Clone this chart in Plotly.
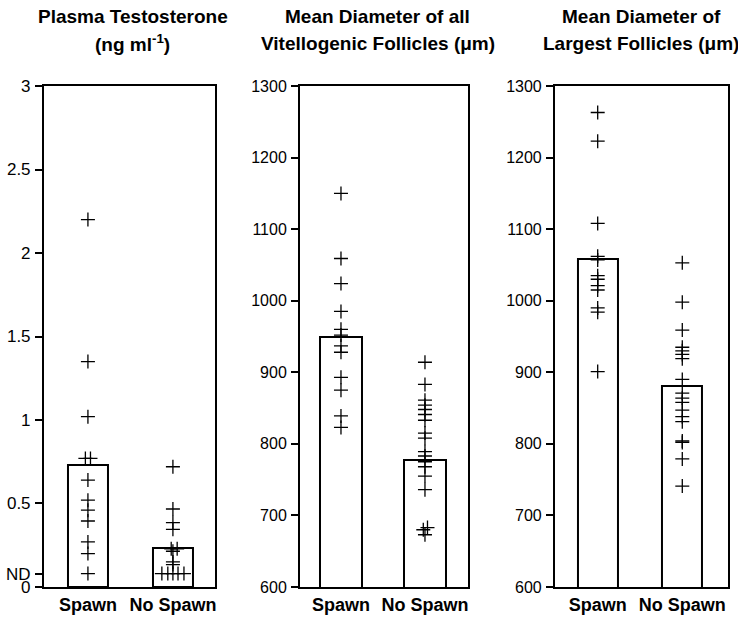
import plotly.graph_objects as go

# ---- data ----
groups = ["Spawn", "No Spawn"]

# Panel 1: plasma testosterone (ng/ml); ND plotted at 0.08
testo_spawn = [2.20, 1.35, 1.02, 0.77, 0.77, 0.64, 0.52, 0.46, 0.395, 0.27, 0.20, 0.08]
testo_nospawn = [0.72, 0.467, 0.385, 0.345, 0.229, 0.229, 0.214, 0.15, 0.134,
                 0.08, 0.08, 0.08, 0.08, 0.08]
testo_means = [0.729, 0.235]

# Panel 2: mean diameter of all vitellogenic follicles (um)
vit_spawn = [1150, 1059, 1024, 985, 960, 952, 937, 928, 893, 875, 839, 823]
vit_nospawn = [914, 883, 861, 854, 848, 841, 833, 815, 808, 789, 783, 775, 768,
               755, 736, 683, 680, 673]
vit_means = [949, 778]

# Panel 3: mean diameter of largest follicles (um)
lar_spawn = [1263, 1223, 1108, 1062, 1057, 1035, 1030, 1021, 1015, 990, 984, 901]
lar_nospawn = [1053, 998, 959, 935, 930, 925, 919, 890, 871, 864, 858, 847, 838,
               831, 804, 802, 779, 741]
lar_means = [1058, 881]

# small horizontal jitter of overlapping crosses (style only)
jit_t_spawn = [0, 0, 0, -0.03, 0.03, 0, 0, 0, 0, 0, 0, 0]
jit_t_nospawn = [0, 0, 0, 0, -0.02, 0.05, 0, 0, 0, -0.13, -0.06, 0, 0.06, 0.13]
jit_v_nospawn = [0] * 15 + [0.03, -0.02, 0]

fig = go.Figure()

panels = [
    (testo_spawn, testo_nospawn, testo_means, jit_t_spawn, jit_t_nospawn, "", 0.47),
    (vit_spawn, vit_nospawn, vit_means, None, jit_v_nospawn, "2", 0.5),
    (lar_spawn, lar_nospawn, lar_means, None, None, "3", 0.47),
]

for sp, nsp, means, js, jn, ax, bw in panels:
    fig.add_trace(go.Bar(
        x=[0, 1], y=means, width=bw,
        marker=dict(color="white", line=dict(color="black", width=2)),
        xaxis="x" + ax, yaxis="y" + ax, showlegend=False, hoverinfo="skip"))
    js = js or [0] * len(sp)
    jn = jn or [0] * len(nsp)
    fig.add_trace(go.Scatter(
        x=[0 + j for j in js] + [1 + j for j in jn], y=sp + nsp,
        mode="markers",
        marker=dict(symbol="cross-thin-open", size=10, color="black",
                    line=dict(color="black", width=1.3)),
        xaxis="x" + ax, yaxis="y" + ax, showlegend=False))

ydom = [0.0502, 0.8608]
xdoms = [[0.0596, 0.2913], [0.4065, 0.6341], [0.752, 0.9864]]
xranges = [[-0.517, 1.495], [-0.488, 1.512], [-0.505, 1.54]]

FAM = "Liberation Sans, Arial, sans-serif"
catfont = dict(family=FAM, size=18, color="black")

common_x = dict(showline=True, linecolor="black", linewidth=2, mirror=True,
                showgrid=False, zeroline=False, ticks="", automargin=False,
                tickvals=[0, 1], ticktext=["<b>" + g + "</b>" for g in groups],
                tickfont=catfont, ticklabelstandoff=0)
common_y = dict(showline=True, linecolor="black", linewidth=2, mirror=True,
                showgrid=False, zeroline=False, ticks="outside", ticklen=7,
                tickwidth=1.5, tickcolor="black",
                automargin=False, ticklabelstandoff=1)

layout = dict(
    width=738, height=618, margin=dict(l=0, r=0, t=0, b=0),
    plot_bgcolor="white", paper_bgcolor="white", bargap=0,
)
for i, a in enumerate(["", "2", "3"]):
    layout["xaxis" + a] = dict(common_x, domain=xdoms[i], range=xranges[i],
                               anchor="y" + a)
layout["yaxis"] = dict(common_y, domain=ydom, range=[0, 3], anchor="x",
                       tickfont=dict(family=FAM, size=17, color="black"),
                       tickvals=[0, 0.08, 0.5, 1, 1.5, 2, 2.5, 3],
                       ticktext=["0", "ND", "0.5", "1", "1.5", "2", "2.5", "3"])
layout["yaxis2"] = dict(common_y, domain=ydom, range=[600, 1300], anchor="x2",
                        tickfont=dict(family=FAM, size=16, color="black"),
                        tickvals=[600, 700, 800, 900, 1000, 1100, 1200, 1300])
layout["yaxis3"] = dict(common_y, domain=ydom, range=[600, 1300], anchor="x3",
                        tickfont=dict(family=FAM, size=16, color="black"),
                        tickvals=[600, 700, 800, 900, 1000, 1100, 1200, 1300])
fig.update_layout(**layout)

titlefont = dict(family=FAM, size=19, color="black")
titles = [
    (0.180, "<b>Plasma Testosterone</b>", "<b>(ng ml<sup>-1</sup>)</b>"),
    (0.512, "<b>Mean Diameter of all</b>", "<b>Vitellogenic Follicles (μm)</b>"),
    (0.869, "<b>Mean Diameter of</b>", "<b>Largest Follicles (μm)</b>"),
]
for x, l1, l2 in titles:
    fig.add_annotation(x=x, y=0.9725, xref="paper", yref="paper", text=l1,
                       showarrow=False, font=titlefont, xanchor="center", yanchor="middle")
    fig.add_annotation(x=x, y=0.930, xref="paper", yref="paper", text=l2,
                       showarrow=False, font=titlefont, xanchor="center", yanchor="middle")

fig.write_html("out.html", config={"displayModeBar": False},
               post_script="document.body.style.margin='0px';document.body.style.overflow='hidden';")
